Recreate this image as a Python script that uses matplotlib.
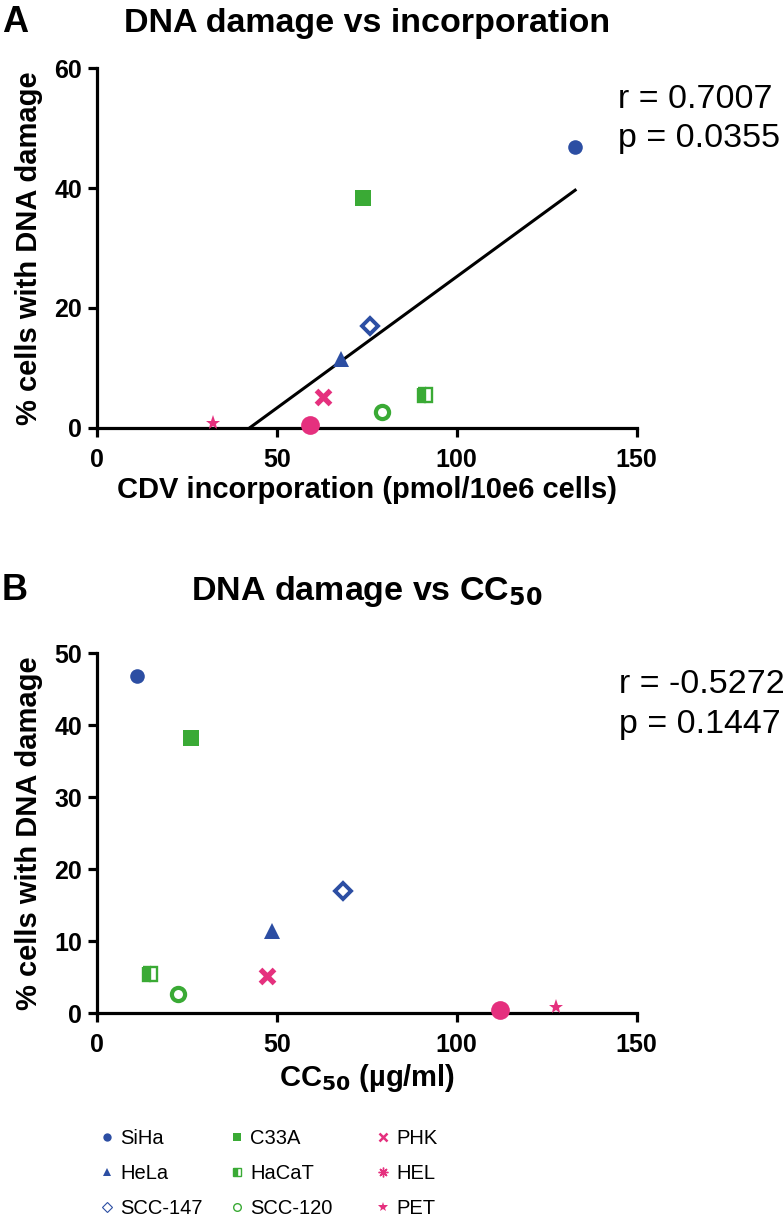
import matplotlib
matplotlib.use("Agg")
import matplotlib.pyplot as plt
from matplotlib.lines import Line2D
import numpy as np

plt.rcParams['font.family'] = ['Liberation Sans', 'DejaVu Sans']
plt.rcParams['mathtext.default'] = 'bf'

# ---------------- data ----------------
cell_lines = ["SiHa", "HeLa", "SCC-147", "C33A", "HaCaT", "SCC-120", "PHK", "HEL", "PET"]
incorporation = [132.9, 67.8, 75.9, 73.9, 91.2, 79.2, 62.9, 59.2, 32.4]      # pmol/10e6 cells
cc50 = [11.1, 48.6, 68.5, 26.2, 14.8, 22.7, 47.2, 112.0, 127.5]              # ug/ml
dna_damage = [46.8, 11.5, 17.0, 38.3, 5.5, 2.7, 5.2, 0.5, 0.85]              # % cells
stats_a = ("r = 0.7007", "p = 0.0355")
stats_b = ("r = -0.5272", "p = 0.1447")

BLUE = "#2C4EA3"
GREEN = "#3AAA35"
PINK = "#E5307E"

# style per cell line (plot style)
styles = {
    "SiHa":    dict(marker="o", color=BLUE, ms=10.5, mfc=BLUE, mew=0),
    "HeLa":    dict(marker="^", color=BLUE, ms=11, mfc=BLUE, mew=0),
    "SCC-147": dict(marker="D", color=BLUE, ms=8, mfc="white", mew=2.8),
    "C33A":    dict(marker="s", color=GREEN, ms=11, mfc=GREEN, mew=0),
    "HaCaT":   dict(marker="s", color=GREEN, ms=9.5, mfc=GREEN, mew=1.7, fillstyle="left", mfcalt="white"),
    "SCC-120": dict(marker="o", color=GREEN, ms=9.5, mfc="white", mew=3.0),
    "PHK":     dict(marker="x", color=PINK, ms=10, mew=3.8),
    "HEL":     dict(marker="o", color=PINK, ms=13.5, mfc=PINK, mew=0),
    "PET":     dict(marker="*", color=PINK, ms=11, mfc=PINK, mew=0),
}

# legend style (small, thin)
leg_styles = {
    "SiHa":    dict(marker="o", color=BLUE, ms=6, mfc=BLUE, mew=0),
    "HeLa":    dict(marker="^", color=BLUE, ms=6, mfc=BLUE, mew=0),
    "SCC-147": dict(marker="D", color=BLUE, ms=5, mfc="white", mew=0.8),
    "C33A":    dict(marker="s", color=GREEN, ms=6, mfc=GREEN, mew=0),
    "HaCaT":   dict(marker="s", color=GREEN, ms=5.5, mfc=GREEN, mew=1, fillstyle="left", mfcalt="white"),
    "SCC-120": dict(marker="o", color=GREEN, ms=5.5, mfc="white", mew=1),
    "PHK":     dict(marker="x", color=PINK, ms=5.5, mew=1.8),
    "HEL":     dict(marker=(8, 2, 0), color=PINK, ms=7, mew=1),
    "PET":     dict(marker="*", color=PINK, ms=7, mfc=PINK, mew=0),
}

fig = plt.figure(figsize=(7.84, 12.17), dpi=100)
W, H = 784, 1217


def px_axes(left, top, right, bottom):
    return fig.add_axes([left / W, 1 - bottom / H, (right - left) / W, (bottom - top) / H])


def draw_point(ax, x, y, st):
    kw = dict(linestyle="none", marker=st["marker"], markersize=st["ms"],
              color=st["color"], markeredgecolor=st["color"],
              markeredgewidth=st["mew"], clip_on=False, zorder=5)
    if "mfc" in st:
        kw["markerfacecolor"] = st["mfc"]
    if "fillstyle" in st:
        kw["fillstyle"] = st["fillstyle"]
        kw["markerfacecoloralt"] = st["mfcalt"]
    ax.plot([x], [y], **kw)


def style_axes(ax, ymax, yticks):
    for s in ["top", "right"]:
        ax.spines[s].set_visible(False)
    for s in ["left", "bottom"]:
        ax.spines[s].set_linewidth(2.3)
    ax.set_xlim(0, 150)
    ax.set_ylim(0, ymax)
    ax.set_xticks([0, 50, 100, 150])
    ax.set_yticks(yticks)
    ax.tick_params(direction="out", length=6.5, width=2.3, labelsize=18)
    ax.tick_params(axis="x", pad=8)
    ax.tick_params(axis="y", pad=4)
    for lab in ax.get_xticklabels() + ax.get_yticklabels():
        lab.set_fontweight("bold")
    ax.set_ylabel("% cells with DNA damage", fontsize=21, fontweight="bold", labelpad=8)


# ---------------- Panel A ----------------
axA = px_axes(96.7, 68.3, 636.7, 427.7)
style_axes(axA, 60, [0, 20, 40, 60])
xa = np.array(incorporation)
ya = np.array(dna_damage)
slope, intercept = np.polyfit(xa, ya, 1)
xl = np.array([xa.min(), xa.max()])
axA.plot(xl, slope * xl + intercept, color="black", lw=2.2, zorder=3)
for name, x, y in zip(cell_lines, incorporation, dna_damage):
    draw_point(axA, x, y, styles[name])
axA.set_xlabel("CDV incorporation (pmol/10e6 cells)", fontsize=21, fontweight="bold", labelpad=3)
fig.text(367 / W, 1 - 32 / H, "DNA damage vs incorporation", fontsize=24.5, fontweight="bold",
         ha="center", va="baseline")
fig.text(2 / W, 1 - 32 / H, "A", fontsize=26, fontweight="bold", ha="left", va="baseline")
fig.text(618 / W, 1 - 108 / H, stats_a[0], fontsize=24.5, ha="left", va="baseline")
fig.text(618 / W, 1 - 147 / H, stats_a[1], fontsize=24.5, ha="left", va="baseline")

# ---------------- Panel B ----------------
axB = px_axes(96.7, 653.3, 636.7, 1013.3)
style_axes(axB, 50, [0, 10, 20, 30, 40, 50])
for name, x, y in zip(cell_lines, cc50, dna_damage):
    draw_point(axB, x, y, styles[name])
axB.set_xlabel("CC$_{50}$ (µg/ml)", fontsize=21, fontweight="bold", labelpad=3)
fig.text(367 / W, 1 - 600 / H, "DNA damage vs CC$_{50}$", fontsize=24.5, fontweight="bold",
         ha="center", va="baseline")
fig.text(2 / W, 1 - 600 / H, "B", fontsize=26, fontweight="bold", ha="left", va="baseline")
fig.text(619 / W, 1 - 693 / H, stats_b[0], fontsize=24.5, ha="left", va="baseline")
fig.text(619 / W, 1 - 733 / H, stats_b[1], fontsize=24.5, ha="left", va="baseline")

# ---------------- Legend (three columns) ----------------
col_x = [101, 231, 377]
for ci in range(3):
    names = cell_lines[ci * 3:(ci + 1) * 3]
    handles = []
    for n in names:
        st = leg_styles[n]
        kw = dict(linestyle="none", marker=st["marker"], markersize=st["ms"],
                  color=st["color"], markeredgecolor=st["color"], markeredgewidth=st["mew"])
        if "mfc" in st:
            kw["markerfacecolor"] = st["mfc"]
        if "fillstyle" in st:
            kw["fillstyle"] = st["fillstyle"]
            kw["markerfacecoloralt"] = st["mfcalt"]
        handles.append(Line2D([], [], **kw))
    fig.legend(handles, names, loc="upper left", bbox_to_anchor=(col_x[ci] / W, 1 - 1129 / H),
               frameon=False, fontsize=14.5, handlelength=0.6, handletextpad=0.35,
               labelspacing=0.8, borderpad=0, borderaxespad=0)

fig.savefig("out.png", dpi=100)
